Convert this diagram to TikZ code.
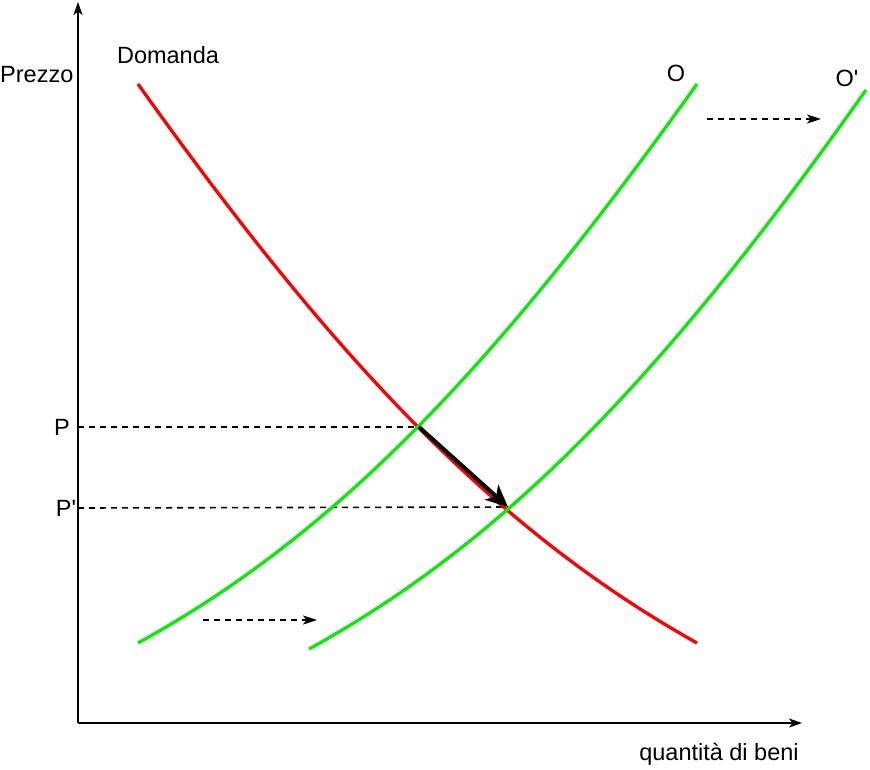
\documentclass[tikz,border=0pt]{standalone}
\usepackage{fontspec}
\setmainfont{Liberation Sans}
\usetikzlibrary{arrows.meta}
\definecolor{dred}{RGB}{255,0,0}
\definecolor{dgreen}{RGB}{10,235,10}
\begin{document}
\begin{tikzpicture}[x=1pt,y=-1pt,
  lab/.style={inner sep=0pt,font=\fontsize{23.5}{28}\selectfont},
  axis/.style={line width=2pt,-{Stealth[length=13pt,width=9pt,inset=3.5pt]}},
  curve/.style={line width=3.3pt},
  guide/.style={line width=1.6pt,dash pattern=on 6pt off 5pt},
  shiftarrow/.style={line width=1.6pt,dash pattern=on 6pt off 5pt,-{Stealth[length=14pt,width=9pt,inset=3.5pt]}},
  move/.style={line width=4pt,-{Stealth[length=22pt,width=20pt,inset=6pt]}}]
\useasboundingbox (0,0) rectangle (870,769);
% axes
\coordinate (orig) at (78,723);
\coordinate (ytip) at (78,2);
\coordinate (xtip) at (802,723);
\draw[axis] (orig) -- (ytip);
\draw[axis] (orig) -- (xtip);
% labels
\node[lab,anchor=west] (ylab) at (0,75) {Prezzo};
\node[lab] (dom) at (168,55) {Domanda};
\node[lab] (labO) at (676,73) {O};
\node[lab] (labOp) at (847,78) {O\textquotesingle};
\node[lab] (labP) at (62,427) {P};
\node[lab] (labPp) at (66,508) {P\textquotesingle};
\node[lab] (xlab) at (719,754) {quantità di beni};
% key points
\coordinate (E1) at (419,427);
\coordinate (E2) at (508,507);
\coordinate (P1) at (78,427);
\coordinate (P2) at (78,508);
% dashed guides
\draw[guide] (P1) -- (E1);
\draw[guide] (P2) -- (E2);
% curves
\draw[curve,dred] (138,84) .. controls (336,362) and (497,531) .. (697,643);
\draw[curve,dgreen] (138,643) .. controls (338,533) and (497,364) .. (697,84);
\draw[curve,dgreen] (309,649) .. controls (509,539) and (668,370) .. (866,90);
% shift arrows
\coordinate (s1a) at (707,119);
\coordinate (s1b) at (821,119);
\coordinate (s2a) at (203,620);
\coordinate (s2b) at (317,620);
\draw[shiftarrow] (s1a) -- (s1b);
\draw[shiftarrow] (s2a) -- (s2b);
% movement arrow
\draw[move] (E1) -- (E2);
\end{tikzpicture}
\end{document}
